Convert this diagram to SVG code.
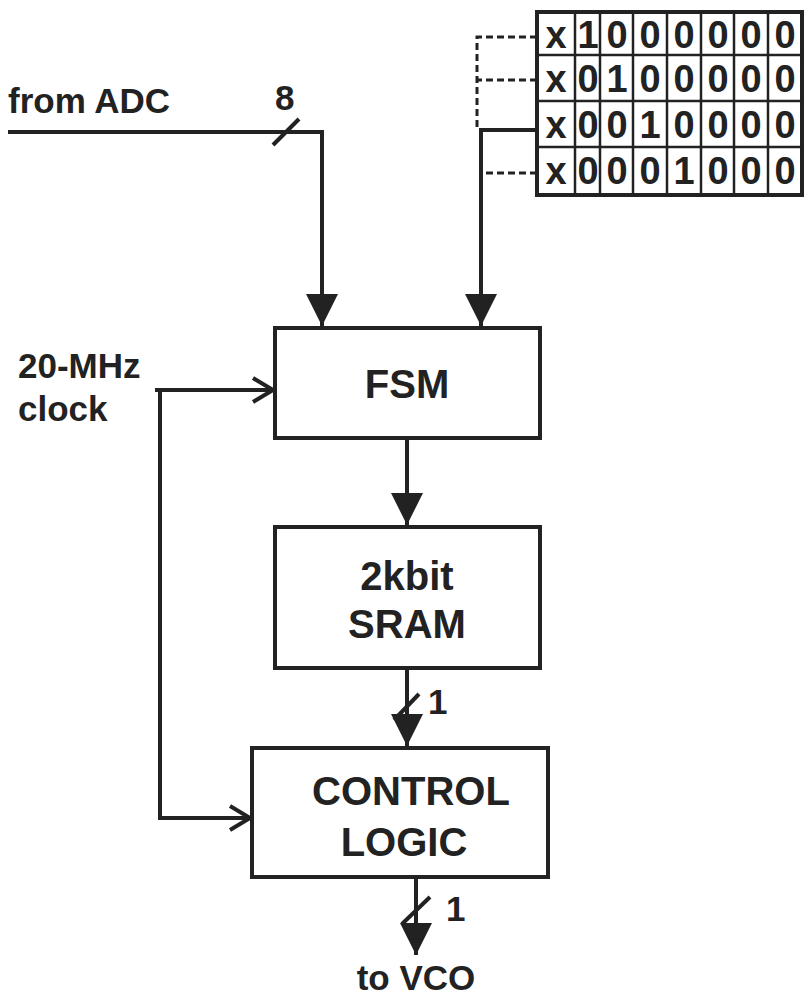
<svg xmlns="http://www.w3.org/2000/svg" width="810" height="1000" viewBox="0 0 810 1000">
<style>
.b{fill:#fff;stroke:#222;stroke-width:4}
.l{fill:none;stroke:#222;stroke-width:4}
.d{fill:none;stroke:#222;stroke-width:3;stroke-dasharray:7,4}
.t{font-family:"Liberation Sans",Arial,sans-serif;font-weight:bold;fill:#222}
</style>
<defs>
<marker id="a" markerWidth="10" markerHeight="10" refX="8" refY="5" orient="auto" markerUnits="strokeWidth"><path d="M0,1 L8,5 L0,9z" fill="#222"/></marker>
<marker id="o" markerWidth="8" markerHeight="8" refX="6" refY="4" orient="auto" markerUnits="strokeWidth"><path d="M1,1 L6,4 L1,7" fill="none" stroke="#222" stroke-width="1"/></marker>
</defs>
<g id="table">
<rect x="537" y="12" width="265" height="183" class="b"/>
<g stroke="#222" stroke-width="2.5">
<line x1="537" y1="55" x2="802" y2="55"/><line x1="537" y1="101" x2="802" y2="101"/><line x1="537" y1="147" x2="802" y2="147"/>
<line x1="575" y1="12" x2="575" y2="195"/><line x1="600" y1="12" x2="600" y2="195"/><line x1="633" y1="12" x2="633" y2="195"/><line x1="667" y1="12" x2="667" y2="195"/><line x1="701" y1="12" x2="701" y2="195"/><line x1="734" y1="12" x2="734" y2="195"/><line x1="768" y1="12" x2="768" y2="195"/>
</g>
<g class="t" font-size="38" text-anchor="middle">
<text x="556" y="48">x</text><text x="588" y="48">1</text><text x="617" y="48">0</text><text x="650" y="48">0</text><text x="684" y="48">0</text><text x="718" y="48">0</text><text x="751" y="48">0</text><text x="785" y="48">0</text>
<text x="556" y="92">x</text><text x="588" y="92">0</text><text x="617" y="92">1</text><text x="650" y="92">0</text><text x="684" y="92">0</text><text x="718" y="92">0</text><text x="751" y="92">0</text><text x="785" y="92">0</text>
<text x="556" y="138">x</text><text x="588" y="138">0</text><text x="617" y="138">0</text><text x="650" y="138">1</text><text x="684" y="138">0</text><text x="718" y="138">0</text><text x="751" y="138">0</text><text x="785" y="138">0</text>
<text x="556" y="184">x</text><text x="588" y="184">0</text><text x="617" y="184">0</text><text x="650" y="184">0</text><text x="684" y="184">1</text><text x="718" y="184">0</text><text x="751" y="184">0</text><text x="785" y="184">0</text>
</g>
</g>
<g id="fsm"><rect x="275" y="328" width="265" height="110" class="b"/><text class="t" font-size="40" x="407" y="398" text-anchor="middle">FSM</text></g>
<g id="sram"><rect x="275" y="527" width="265" height="141" class="b"/><text class="t" font-size="40" x="407" y="590" text-anchor="middle">2kbit</text><text class="t" font-size="40" x="407" y="638" text-anchor="middle">SRAM</text></g>
<g id="control"><rect x="252" y="748" width="296" height="129" class="b"/><text class="t" font-size="40" x="411" y="805" text-anchor="middle">CONTROL</text><text class="t" font-size="40" x="404" y="856" text-anchor="middle">LOGIC</text></g>
<g id="labels" class="t" font-size="35">
<text x="8" y="113">from ADC</text><text x="275" y="110">8</text>
<text x="18" y="378">20-MHz</text><text x="18" y="421">clock</text>
<text x="428" y="714">1</text><text x="446" y="921">1</text>
<text x="416" y="990" text-anchor="middle">to VCO</text>
</g>
<g id="connectors">
<path class="d" d="M537,37 H477 V130 M537,80 H477 M537,173 H481"/>
<path class="l" d="M537,130 H481 V326" marker-end="url(#a)"/>
<path class="l" d="M8,132 H322 V326" marker-end="url(#a)"/>
<line class="l" x1="273" y1="145" x2="299" y2="119"/>
<path class="l" d="M155,390 H273" marker-end="url(#o)"/>
<path class="l" d="M160,390 V818 H250" marker-end="url(#o)"/>
<path class="l" d="M407,438 V525" marker-end="url(#a)"/>
<path class="l" d="M407,668 V746" marker-end="url(#a)"/>
<line class="l" x1="394" y1="720" x2="419" y2="694"/>
<path class="l" d="M416,877 V955" marker-end="url(#a)"/>
<line class="l" x1="402" y1="924" x2="430" y2="897"/>
</g>
</svg>
